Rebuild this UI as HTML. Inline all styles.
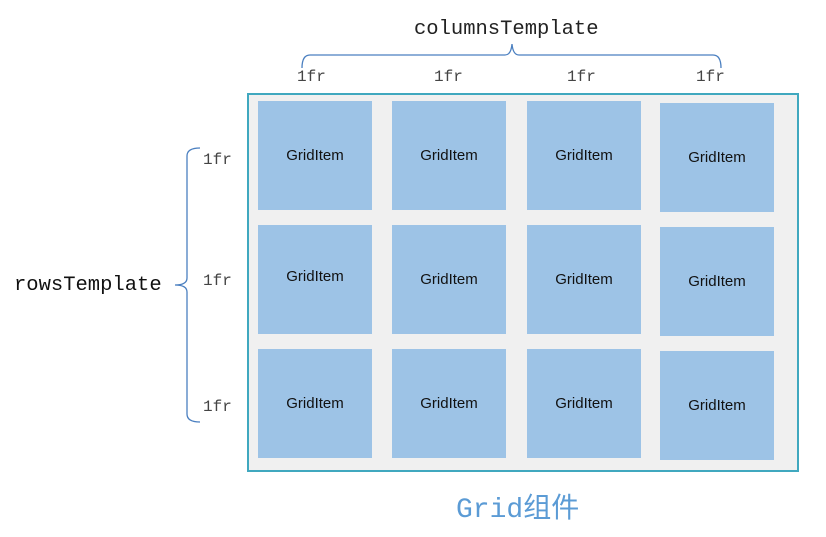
<!DOCTYPE html>
<html><head><meta charset="utf-8"><style>
body{margin:0;width:826px;height:537px;background:#fff;position:relative;overflow:hidden}
.t{position:absolute;font-family:"Liberation Mono","DejaVu Sans Mono",monospace;white-space:nowrap}
.fr{font-size:16px;color:#444}
.box{position:absolute;left:247px;top:93px;width:548px;height:375px;border:2px solid #40a8bf;background:#f0f0f0}
.c{position:absolute;width:114px;height:109px;background:#9dc3e6;font-family:"Liberation Sans",Arial,sans-serif;font-size:15px;color:#111;display:flex;align-items:center;justify-content:center}
</style></head><body>
<div class="t" style="left:414px;top:18px;font-size:20.5px;color:#222">columnsTemplate</div>
<div class="t" style="left:14px;top:274px;font-size:20.5px;color:#111">rowsTemplate</div>
<svg width="826" height="537" style="position:absolute;left:0;top:0">
<path d="M302 68 Q302 55 310 55 L505 55 Q511 55 512 44 Q513 55 519 55 L713 55 Q721 55 721 68" fill="none" stroke="#4a7fc0" stroke-width="1.3"/>
<path d="M200 148 Q187 148 187 156 L187 278 Q187 285 175 285 Q187 285 187 292 L187 414 Q187 422 200 422" fill="none" stroke="#4a7fc0" stroke-width="1.3"/>
</svg>
<div class="t fr" style="left:297px;top:68px">1fr</div>
<div class="t fr" style="left:434px;top:68px">1fr</div>
<div class="t fr" style="left:567px;top:68px">1fr</div>
<div class="t fr" style="left:696px;top:68px">1fr</div>
<div class="t fr" style="left:203px;top:151px">1fr</div>
<div class="t fr" style="left:203px;top:272px">1fr</div>
<div class="t fr" style="left:203px;top:398px">1fr</div>
<div class="box"></div>
<div class="c" style="left:258px;top:101px">GridItem</div>
<div class="c" style="left:392px;top:101px">GridItem</div>
<div class="c" style="left:527px;top:101px">GridItem</div>
<div class="c" style="left:660px;top:103px">GridItem</div>
<div class="c" style="left:258px;top:225px;padding-bottom:6px;box-sizing:border-box">GridItem</div>
<div class="c" style="left:392px;top:225px">GridItem</div>
<div class="c" style="left:527px;top:225px">GridItem</div>
<div class="c" style="left:660px;top:227px">GridItem</div>
<div class="c" style="left:258px;top:349px">GridItem</div>
<div class="c" style="left:392px;top:349px">GridItem</div>
<div class="c" style="left:527px;top:349px">GridItem</div>
<div class="c" style="left:660px;top:351px">GridItem</div>
<div class="t" style="left:456px;top:486px;font-size:28px;color:#5b9bd5;font-family:'Liberation Mono','Noto Sans CJK SC',monospace">Grid组件</div>
</body></html>
